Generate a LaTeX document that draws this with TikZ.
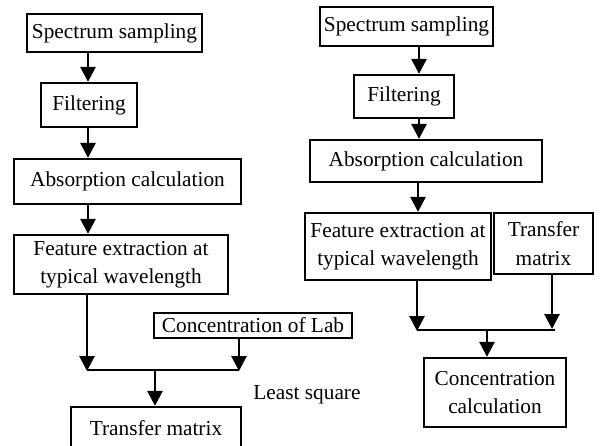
\documentclass[tikz,border=0pt]{standalone}
\usepackage{fontspec}
\setmainfont{Liberation Serif}
\usetikzlibrary{arrows.meta}
\begin{document}
\begin{tikzpicture}[x=1pt,y=-1pt,
  box/.style={draw=black,line width=2.3pt,rectangle,inner sep=0pt,align=center,
    font=\fontsize{21.3}{28.5}\selectfont},
  lbl/.style={inner sep=0pt,font=\fontsize{21.3}{28.5}\selectfont},
  arr/.style={line width=2.8pt,-{Triangle[width=15pt,length=15pt]}},
  ln/.style={line width=2.8pt}]
\clip (0,0) rectangle (605,445);
\fill[white] (0,0) rectangle (605,445);
% left column
\node[box,minimum width=175pt,minimum height=38pt] (ss1) at (114.5,33) {Spectrum sampling};
\node[box,minimum width=96pt,minimum height=44pt] (f1) at (89,105) {Filtering};
\node[box,minimum width=227pt,minimum height=45pt] (a1) at (127.5,181.5) {Absorption calculation};
\node[box,minimum width=214pt,minimum height=59pt] (fe1) at (121,264.5) {Feature extraction at\\typical wavelength};
\node[box,minimum width=198pt,minimum height=25pt] (cl) at (253,325.5) {Concentration of Lab};
\node[box,minimum width=170pt,minimum height=42pt] (tm1) at (156,428) {Transfer matrix};
\node[lbl] (ls) at (307,395) {Least square};
\coordinate (jl1) at (87,370);
\coordinate (jr1) at (239,370);
\coordinate (jm1) at (155,370);
\draw[arr] (ss1.south -| 88,0) -- (f1.north -| 88,0);
\draw[arr] (f1.south -| 88,0) -- (a1.north -| 88,0);
\draw[arr] (a1.south -| 88,0) -- (fe1.north -| 88,0);
\draw[arr] (fe1.south -| jl1) -- ([yshift=-1pt]jl1);
\draw[arr] (cl.south -| jr1) -- ([yshift=-1pt]jr1);
\draw[ln] (jl1) -- (jr1);
\draw[arr] (jm1) -- (tm1.north -| jm1);
% right column
\node[box,minimum width=173pt,minimum height=39pt] (ss2) at (406.5,26.5) {Spectrum sampling};
\node[box,minimum width=100pt,minimum height=43pt] (f2) at (404,96.5) {Filtering};
\node[box,minimum width=232pt,minimum height=42pt] (a2) at (426,161) {Absorption calculation};
\node[box,minimum width=186pt,minimum height=67pt] (fe2) at (398,246.5) {Feature extraction at\\typical wavelength};
\node[box,minimum width=99pt,minimum height=61pt] (tm2) at (543.5,243.5) {Transfer\\matrix};
\node[box,minimum width=142pt,minimum height=69pt] (cc) at (495,392.5) {Concentration\\calculation};
\coordinate (jl2) at (417,330);
\coordinate (jr2) at (555,330);
\coordinate (jm2) at (487,330);
\draw[arr] (ss2.south -| 419,0) -- (f2.north -| 419,0);
\draw[arr] (f2.south -| 419,0) -- (a2.north -| 419,0);
\draw[arr] (a2.south -| 418,0) -- (fe2.north -| 418,0);
\draw[arr] (fe2.south -| jl2) -- ([yshift=-1pt]jl2);
\draw[arr] (tm2.south -| 552,0) -- (552,329);
\draw[ln] (jl2) -- (jr2);
\draw[arr] (jm2) -- (cc.north -| jm2);
\end{tikzpicture}
\end{document}
